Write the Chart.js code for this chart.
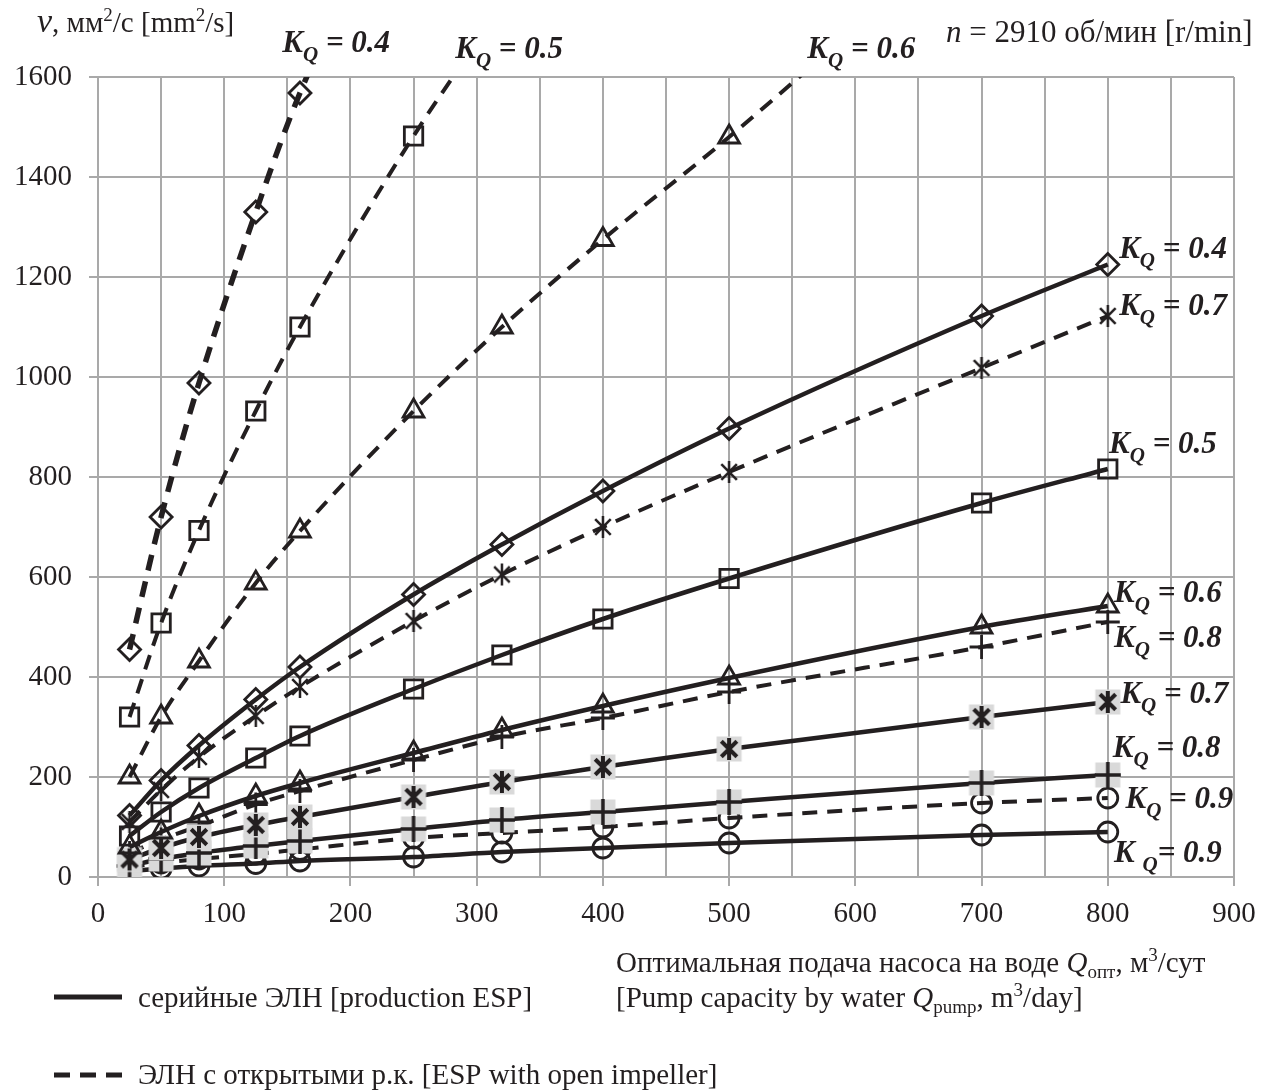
<!DOCTYPE html>
<html>
<head>
<meta charset="utf-8">
<script src="https://cdn.jsdelivr.net/npm/chart.js@4"></script>
<style>
  html, body { margin: 0; padding: 0; background: #fff; }
  canvas { display: block; }
</style>
</head>
<body>
<canvas id="viscChart" width="1271" height="1092"></canvas>
<script>
// pump capacity on water, m3/day
const capacity = [25, 50, 80, 125, 160, 250, 320, 400, 500, 700, 800];
const xTicks = [0, 100, 200, 300, 400, 500, 600, 700, 800, 900];
const yTicks = [0, 200, 400, 600, 800, 1000, 1200, 1400, 1600];

// production ESP (solid lines)
const serial04 = [123, 193, 263, 355, 420, 565, 665, 772, 897, 1122, 1225];
const serial05 = [82, 130, 178, 238, 282, 376, 444, 516, 597, 748, 816];
const serial06 = [60, 90, 122, 162, 188, 248, 294, 342, 398, 500, 542];
const serial07 = [35, 58, 80, 104, 120, 160, 190, 220, 256, 320, 350];
const serial08 = [22, 36, 48, 62, 72, 96, 114, 130, 150, 188, 204];
const serial09 = [12, 17, 22, 27, 32, 40, 50, 58, 68, 84, 90];

// ESP with open impeller (dashed lines), last values run off the top
const open04 = [455, 720, 988, 1330, 1568, 2050];
const open05 = [320, 508, 693, 932, 1100, 1482, 1740];
const open06 = [200, 320, 432, 588, 692, 932, 1100, 1275, 1480, 1920];
const open07 = [110, 174, 240, 322, 380, 512, 605, 700, 810, 1018, 1122];
const open08 = [48, 75, 102, 145, 172, 234, 280, 318, 370, 460, 510];
const open09 = [20, 28, 36, 46, 55, 78, 88, 100, 118, 148, 158];

const INK = '#231f20';
const GRID = '#a9a9a9';
const SERIF = '"Liberation Serif", "Times New Roman", serif';

function pts(vals) {
    return vals.map((v, i) => ({ x: capacity[i], y: v }));
}

// markers with grey square background, like the source figure
function marker(kind, gray, lw) {
    const size = 28;
    const c = document.createElement('canvas');
    c.width = size; c.height = size;
    const g = c.getContext('2d');
    const m = size / 2;
    if (gray) {
        g.fillStyle = '#d9d9d9';
        g.fillRect(m - 12.5, m - 12.5, 25, 25);
    }
    g.strokeStyle = INK;
    g.lineWidth = lw;
    g.beginPath();
    if (kind === 'plus') {
        g.moveTo(m, m - 13); g.lineTo(m, m + 13);
        g.moveTo(m - 13, m); g.lineTo(m + 13, m);
    } else {
        const r = 11, d = r * Math.SQRT1_2;
        g.moveTo(m, m - r); g.lineTo(m, m + r);
        g.moveTo(m - d, m - d); g.lineTo(m + d, m + d);
        g.moveTo(m + d, m - d); g.lineTo(m - d, m + d);
    }
    g.stroke();
    return c;
}

const starGray = marker('star', true, 4);
const plusGray = marker('plus', true, 3.5);
const starOpen = marker('star', false, 2.5);

function serie(vals, style, radius, dashed, width) {
    return {
        data: pts(vals),
        borderColor: INK,
        backgroundColor: 'rgba(0,0,0,0)',
        borderWidth: width,
        borderDash: dashed || [],
        pointStyle: style,
        pointRadius: radius,
        pointBorderColor: INK,
        pointBorderWidth: 2.8,
        pointBackgroundColor: 'rgba(0,0,0,0)',
        cubicInterpolationMode: 'monotone',
        fill: false
    };
}

const DASH = [15, 10];

const datasets = [
    serie(serial04, 'rectRot', 11, null, 4.5),
    serie(serial05, 'rect', 13, null, 4.5),
    serie(serial06, 'triangle', 12, null, 4.5),
    serie(serial07, starGray, 12, null, 4.5),
    serie(serial08, plusGray, 12, null, 4.5),
    serie(serial09, 'circle', 10, null, 4.5),
    serie(open04, 'rectRot', 11, [16, 11], 5.5),
    serie(open05, 'rect', 13, DASH, 4),
    serie(open06, 'triangle', 12, DASH, 4),
    serie(open07, starOpen, 12, DASH, 4),
    serie(open08, 'cross', 12, DASH, 4),
    serie(open09, 'circle', 10, DASH, 4)
];

// K_Q labels: [value, x (m3/day), y (mm2/s) of K glyph centre]
const kqLabels = [
    ['0.4', 146, 1670, ''], ['0.5', 283, 1658, ''], ['0.6', 562, 1658, ''],
    ['0.4', 809, 1258, ''], ['0.7', 809, 1144, ''], ['0.5', 801, 868, ''],
    ['0.6', 805, 570, ''], ['0.8', 805, 480, ''], ['0.7', 810, 368, ''],
    ['0.8', 804, 260, ''], ['0.9', 814, 158, ''], ['0.9', 805, 50, ' ']
];

function rich(ctx, parts, x, y) {
    let cx = x;
    parts.forEach(p => {
        ctx.font = p.f;
        ctx.fillText(p.t, cx, y + (p.dy || 0));
        cx += ctx.measureText(p.t).width;
    });
    return cx;
}

const textPlugin = {
    id: 'texts',
    afterDraw(chart) {
        const ctx = chart.ctx;
        const xs = chart.scales.x, ys = chart.scales.y;
        ctx.save();
        ctx.fillStyle = INK;
        ctx.textBaseline = 'alphabetic';
        ctx.textAlign = 'left';

        const big = 'italic bold 31px ' + SERIF;
        const sub = 'italic bold 21px ' + SERIF;
        kqLabels.forEach(([v, qx, qy, gap]) => {
            const px = xs.getPixelForValue(qx);
            const py = ys.getPixelForValue(qy) + 10;
            rich(ctx, [
                { t: 'K' + gap, f: big },
                { t: 'Q', f: sub, dy: 9 },
                { t: gap ? '= ' + v : ' = ' + v, f: big }
            ], px, py);
        });

        const reg = '29px ' + SERIF;
        const sup = '19px ' + SERIF;
        rich(ctx, [
            { t: 'ν', f: 'italic 34px ' + SERIF },
            { t: ', мм', f: reg },
            { t: '2', f: sup, dy: -11 },
            { t: '/с [mm', f: reg },
            { t: '2', f: sup, dy: -11 },
            { t: '/s]', f: reg }
        ], 37, 32);

        rich(ctx, [
            { t: 'n', f: 'italic 31px ' + SERIF },
            { t: ' = 2910 об/мин [r/min]', f: '31px ' + SERIF }
        ], 946, 42);

        const tf = '29px ' + SERIF;
        const ts = '19px ' + SERIF;
        rich(ctx, [
            { t: 'Оптимальная подача насоса на воде ', f: tf },
            { t: 'Q', f: 'italic 29px ' + SERIF },
            { t: 'опт', f: ts, dy: 6 },
            { t: ', м', f: tf },
            { t: '3', f: ts, dy: -11 },
            { t: '/сут', f: tf }
        ], 616, 972);
        rich(ctx, [
            { t: '[Pump capacity by water ', f: tf },
            { t: 'Q', f: 'italic 29px ' + SERIF },
            { t: 'pump', f: ts, dy: 6 },
            { t: ', m', f: tf },
            { t: '3', f: ts, dy: -11 },
            { t: '/day]', f: tf }
        ], 616, 1007);

        // legend
        ctx.strokeStyle = INK;
        ctx.lineWidth = 5;
        ctx.beginPath();
        ctx.moveTo(54, 997); ctx.lineTo(122, 997);
        ctx.stroke();
        ctx.setLineDash([16, 10]);
        ctx.beginPath();
        ctx.moveTo(54, 1075); ctx.lineTo(122, 1075);
        ctx.stroke();
        ctx.setLineDash([]);
        ctx.font = tf;
        ctx.fillText('серийные ЭЛН [production ESP]', 138, 1007);
        ctx.fillText('ЭЛН с открытыми р.к. [ESP with open impeller]', 138, 1084);
        ctx.restore();
    }
};

const ctx = document.getElementById('viscChart').getContext('2d');
const chart = new Chart(ctx, {
    type: 'line',
    data: { datasets: datasets },
    plugins: [textPlugin],
    options: {
        responsive: false,
        animation: false,
        events: [],
        layout: { padding: { top: 77, right: 37, left: 0, bottom: 0 } },
        plugins: {
            legend: { display: false },
            tooltip: { enabled: false },
            title: { display: false }
        },
        scales: {
            x: {
                type: 'linear',
                min: xTicks[0],
                max: xTicks[xTicks.length - 1],
                afterFit: s => { s.height = 215; },
                ticks: {
                    stepSize: 50,
                    autoSkip: false,
                    maxRotation: 0,
                    padding: 11,
                    color: INK,
                    font: { family: SERIF, size: 29 },
                    callback: v => xTicks.includes(v) ? String(v) : ''
                },
                grid: {
                    color: GRID,
                    lineWidth: 2,
                    tickLength: 9,
                    tickColor: c => (c.tick && xTicks.includes(c.tick.value)) ? GRID : 'rgba(0,0,0,0)'
                },
                border: { color: GRID, width: 2 }
            },
            y: {
                type: 'linear',
                min: yTicks[0],
                max: yTicks[yTicks.length - 1],
                afterFit: s => { s.width = 98; },
                ticks: {
                    stepSize: 200,
                    padding: 17,
                    color: INK,
                    font: { family: SERIF, size: 29 },
                    callback: v => String(v)
                },
                grid: { color: GRID, lineWidth: 2, tickLength: 9, tickColor: GRID },
                border: { color: GRID, width: 2 }
            }
        }
    }
});
</script>
</body>
</html>
